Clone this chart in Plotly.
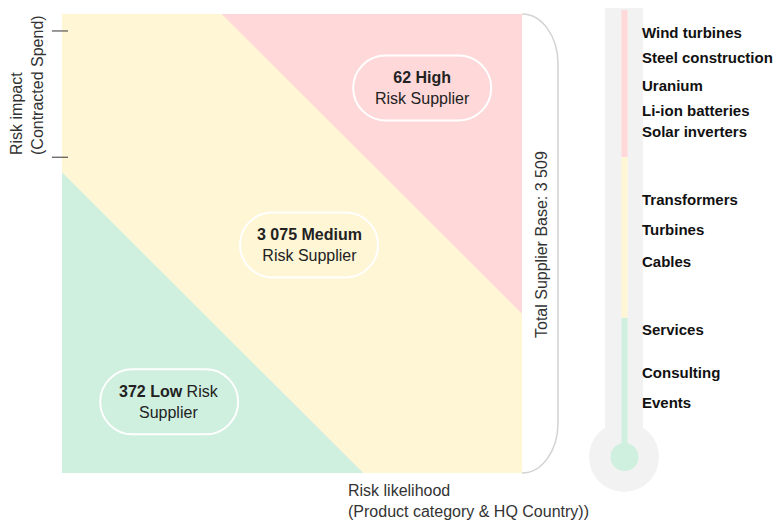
import plotly.graph_objects as go

# page body has an 8px margin: the figure is sized so that it fills the 781x520 window
OX, OY = 8, 8
W, H = 781 - OX, 520 - OY
FONT = "Liberation Sans, Arial, sans-serif"

# ---------------- data ----------------
zone_names = ["Low", "Medium", "High"]
supplier_counts = [372, 3075, 62]
zone_colors = ["#cfefdf", "#fff6d6", "#ffd8d9"]
# diagonal zone boundaries, expressed as likelihood + impact (each 0..1)
risk_thresholds = [0.655, 1.347]
impact_ticks = [0.688, 0.963]

categories = ["Wind turbines", "Steel construction", "Uranium", "Li-ion batteries",
              "Solar inverters", "Transformers", "Turbines", "Cables",
              "Services", "Consulting", "Events"]
category_scores = [95.0, 89.3, 83.0, 77.6, 72.9, 57.5, 51.0, 43.8, 28.6, 19.0, 12.1]
thermo_bands = [0, 31.1, 67.1, 100]


# ---------------- layout helpers ----------------
def xp(x):
    return (x - OX) / W


def yp(y):
    return 1 - (y - OY) / H


dom_x = [xp(62), xp(522)]
dom_y = [yp(473), yp(14)]
label_pos = {"Low": (0.233, 0.155), "Medium": (0.537, 0.497), "High": (0.783, 0.839)}


def fmt(n):
    return f"{n:,}".replace(",", " ")


t0, t1 = risk_thresholds
fig = go.Figure()

# medium zone (full square), then low & high triangles on top
fig.add_trace(go.Scatter(x=[0, 1, 1, 0], y=[0, 0, 1, 1], fill="toself", mode="lines",
                         line=dict(width=0), fillcolor=zone_colors[1], hoverinfo="skip"))
fig.add_trace(go.Scatter(x=[0, 0, t0], y=[0, t0, 0], fill="toself", mode="lines",
                         line=dict(width=0), fillcolor=zone_colors[0], hoverinfo="skip"))
fig.add_trace(go.Scatter(x=[t1 - 1, 1, 1], y=[1, 1, t1 - 1], fill="toself", mode="lines",
                         line=dict(width=0), fillcolor=zone_colors[2], hoverinfo="skip"))

# thermometer anchor trace
fig.add_trace(go.Scatter(x=[640] * len(categories), y=category_scores, mode="markers",
                         marker=dict(opacity=0), xaxis="x2", yaxis="y2", hoverinfo="skip"))

shapes = []
annotations = []

# zone labels + pills
label_texts = {
    "High": f"<b>{fmt(supplier_counts[2])} High</b><br>Risk Supplier",
    "Medium": f"<b>{fmt(supplier_counts[1])} Medium</b><br>Risk Supplier",
    "Low": f"<b>{fmt(supplier_counts[0])} Low</b> Risk<br>Supplier",
}
k = 0.5523
pw, ph = 69, 32.5
r = ph
s = pw - r
pill = (f"M {-s},{-r} L {s},{-r} C {s + k * r},{-r} {pw},{-k * r} {pw},0 "
        f"C {pw},{k * r} {s + k * r},{r} {s},{r} L {-s},{r} "
        f"C {-s - k * r},{r} {-pw},{k * r} {-pw},0 C {-pw},{-k * r} {-s - k * r},{-r} {-s},{-r} Z")
for name in zone_names:
    lx, ly = label_pos[name]
    shapes.append(dict(type="path", xref="x", yref="y", xsizemode="pixel", ysizemode="pixel",
                       xanchor=lx, yanchor=ly, path=pill,
                       line=dict(color="white", width=2), fillcolor="rgba(0,0,0,0)"))
    annotations.append(dict(x=lx, y=ly, xref="x", yref="y", text=label_texts[name],
                            showarrow=False, xanchor="center", yanchor="middle", align="center",
                            font=dict(family=FONT, size=16, color="#222")))

# left ticks
for tv in impact_ticks:
    shapes.append(dict(type="line", xref="x domain", yref="y", x0=-0.022, x1=0.013,
                       y0=tv, y1=tv, line=dict(color="#333", width=1)))

# bracket at right of matrix
rx, ry, hh = 36, 50, 229.5
br = (f"M 0,{hh} C {k * rx},{hh} {rx},{hh - ry + k * ry} {rx},{hh - ry} "
      f"L {rx},{-hh + ry} C {rx},{-hh + ry - k * ry} {k * rx},{-hh} 0,{-hh}")
shapes.append(dict(type="path", xref="x domain", yref="y domain", xsizemode="pixel",
                   ysizemode="pixel", xanchor=1, yanchor=0.5, path=br,
                   line=dict(color="#d2d2d2", width=1.5)))

# thermometer
shapes.append(dict(type="rect", xref="x2", yref="y2", x0=605, x1=643, y0=0, y1=100.9,
                   fillcolor="#f2f2f2", line=dict(width=0)))
shapes.append(dict(type="circle", xref="x2", yref="y2", xsizemode="pixel", ysizemode="pixel",
                   xanchor=624, yanchor=0, x0=-35, x1=35, y0=-35, y1=35,
                   fillcolor="#f2f2f2", line=dict(width=0)))
for i in range(3):
    shapes.append(dict(type="rect", xref="x2", yref="y2", x0=621.5, x1=627.5,
                       y0=thermo_bands[i], y1=thermo_bands[i + 1],
                       fillcolor=zone_colors[i], line=dict(width=0)))
shapes.append(dict(type="circle", xref="x2", yref="y2", xsizemode="pixel", ysizemode="pixel",
                   xanchor=624.5, yanchor=0, x0=-14, x1=14, y0=-14, y1=14,
                   fillcolor=zone_colors[0], line=dict(width=0)))

for cat, sc in zip(categories, category_scores):
    annotations.append(dict(x=640, y=sc, xref="x2", yref="y2", text=f"<b>{cat}</b>",
                            showarrow=False, xanchor="left", yanchor="middle",
                            font=dict(family=FONT, size=15, color="#111")))

# titles
annotations.append(dict(x=xp(27), y=yp(85), xref="paper", yref="paper",
                        text="Risk impact<br>(Contracted Spend)", textangle=-90,
                        showarrow=False, xanchor="center", yanchor="middle", align="left",
                        font=dict(family=FONT, size=16, color="#333")))
annotations.append(dict(x=xp(346), y=yp(501), xref="paper", yref="paper",
                        text="Risk likelihood<br>(Product category & HQ Country))",
                        showarrow=False, xanchor="left", yanchor="middle", align="left",
                        font=dict(family=FONT, size=16, color="#333")))
annotations.append(dict(x=xp(541), y=yp(245), xref="paper", yref="paper",
                        text=f"Total Supplier Base: {fmt(sum(supplier_counts))}", textangle=-90,
                        showarrow=False, xanchor="center", yanchor="middle",
                        font=dict(family=FONT, size=16, color="#333")))

fig.update_layout(
    width=W, height=H, autosize=False, margin=dict(l=0, r=0, t=0, b=0),
    paper_bgcolor="white", plot_bgcolor="white", showlegend=False,
    xaxis=dict(domain=dom_x, range=[0, 1], visible=False, fixedrange=True),
    yaxis=dict(domain=dom_y, range=[0, 1], visible=False, fixedrange=True),
    xaxis2=dict(domain=[xp(547), 1], range=[547, 781], visible=False, anchor="y2"),
    yaxis2=dict(domain=[0, 1], range=[(457 - 520) / 4.47, (457 - OY) / 4.47],
                visible=False, anchor="x2"),
    shapes=shapes, annotations=annotations,
)

fig.write_html("out.html")
